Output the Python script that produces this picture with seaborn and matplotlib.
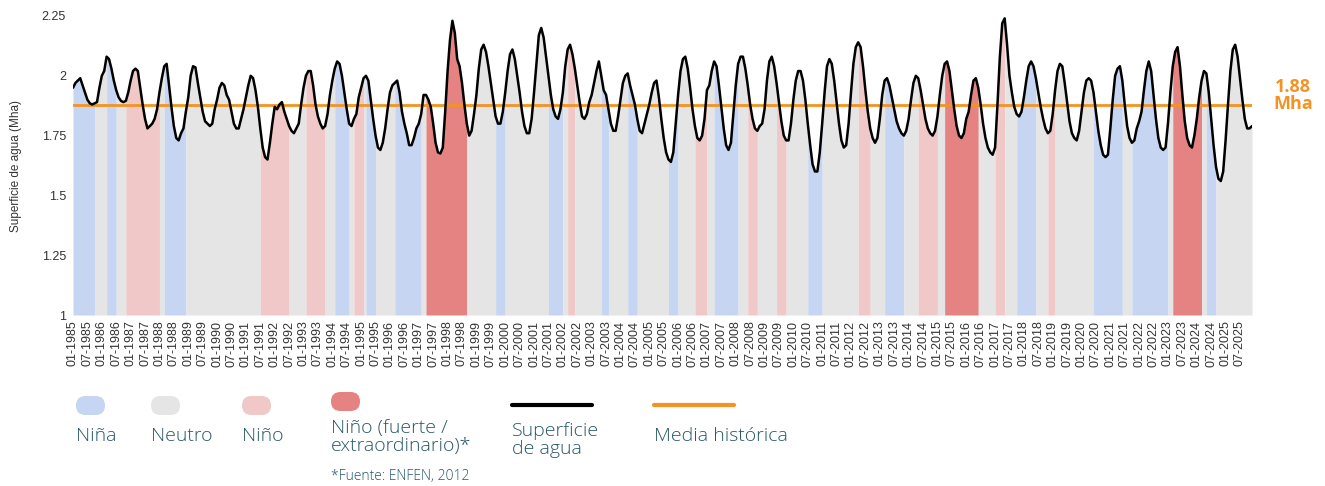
import numpy as np
import pandas as pd
import matplotlib
matplotlib.use("Agg")
import matplotlib.pyplot as plt
import seaborn as sns
from matplotlib.patches import FancyBboxPatch

# superficie de agua mensual (Mha), ene-1985 a dic-2025
sup_1985_1989 = [
    1.95, 1.97, 1.98, 1.99, 1.96, 1.93, 1.90, 1.885, 1.88, 1.885, 1.89, 1.95,
    2.00, 2.02, 2.08, 2.07, 2.03, 1.98, 1.94, 1.91, 1.895, 1.89, 1.895, 1.93,
    1.98, 2.02, 2.03, 2.02, 1.95, 1.88, 1.82, 1.78, 1.79, 1.80, 1.82, 1.86,
    1.93, 1.99, 2.04, 2.05, 1.96, 1.87, 1.79, 1.74, 1.73, 1.76, 1.78, 1.85,
    1.91, 2.00, 2.04, 2.035, 1.97, 1.91, 1.85, 1.81, 1.80, 1.79, 1.80, 1.86,
]
sup_1990_1999 = [
    1.90, 1.95, 1.97, 1.96, 1.92, 1.90, 1.85, 1.80, 1.78, 1.78, 1.82, 1.86,
    1.91, 1.96, 2.00, 1.99, 1.94, 1.87, 1.78, 1.70, 1.66, 1.65, 1.72, 1.80,
    1.87, 1.86, 1.88, 1.89, 1.85, 1.82, 1.79, 1.77, 1.76, 1.78, 1.80, 1.88,
    1.95, 2.00, 2.02, 2.02, 1.96, 1.88, 1.83, 1.80, 1.78, 1.79, 1.84, 1.92,
    1.98, 2.03, 2.06, 2.05, 2.00, 1.93, 1.86, 1.80, 1.79, 1.82, 1.84, 1.91,
    1.95, 1.99, 2.00, 1.98, 1.90, 1.82, 1.75, 1.70, 1.69, 1.72, 1.78, 1.86,
    1.93, 1.96, 1.97, 1.98, 1.93, 1.85, 1.80, 1.76, 1.71, 1.71, 1.74, 1.78,
    1.80, 1.84, 1.92, 1.92, 1.90, 1.87, 1.80, 1.72, 1.68, 1.675, 1.70, 1.85,
    2.02, 2.15, 2.23, 2.18, 2.07, 2.04, 1.97, 1.88, 1.80, 1.75, 1.77, 1.84,
    1.92, 2.03, 2.11, 2.13, 2.10, 2.04, 1.97, 1.90, 1.83, 1.80, 1.80, 1.85,
]
sup_2000_2009 = [
    1.93, 2.02, 2.09, 2.11, 2.07, 2.00, 1.93, 1.85, 1.79, 1.76, 1.76, 1.82,
    1.93, 2.05, 2.17, 2.20, 2.16, 2.08, 2.00, 1.92, 1.86, 1.83, 1.82, 1.86,
    1.93, 2.04, 2.11, 2.13, 2.09, 2.03, 1.96, 1.89, 1.83, 1.82, 1.84, 1.89,
    1.92, 1.97, 2.02, 2.06, 2.00, 1.94, 1.92, 1.86, 1.80, 1.77, 1.77, 1.83,
    1.90, 1.97, 2.00, 2.01, 1.96, 1.92, 1.88, 1.82, 1.77, 1.76, 1.80, 1.84,
    1.88, 1.93, 1.97, 1.98, 1.91, 1.82, 1.74, 1.68, 1.65, 1.64, 1.68, 1.80,
    1.92, 2.02, 2.07, 2.08, 2.03, 1.95, 1.86, 1.79, 1.74, 1.73, 1.75, 1.82,
    1.94, 1.96, 2.02, 2.06, 2.04, 1.96, 1.87, 1.78, 1.71, 1.69, 1.72, 1.84,
    1.96, 2.05, 2.08, 2.08, 2.03, 1.96, 1.88, 1.82, 1.78, 1.77, 1.79, 1.80,
    1.86, 1.98, 2.06, 2.08, 2.04, 1.97, 1.89, 1.81, 1.75, 1.73, 1.73, 1.80,
]
sup_2010_2019 = [
    1.90, 1.98, 2.02, 2.02, 1.98, 1.90, 1.80, 1.71, 1.63, 1.60, 1.60, 1.68,
    1.80, 1.93, 2.04, 2.07, 2.05, 1.98, 1.89, 1.80, 1.73, 1.70, 1.71, 1.80,
    1.93, 2.05, 2.12, 2.14, 2.12, 2.04, 1.94, 1.85, 1.78, 1.74, 1.72, 1.74,
    1.82, 1.92, 1.98, 1.99, 1.96, 1.91, 1.86, 1.81, 1.78, 1.76, 1.75, 1.77,
    1.82, 1.90, 1.97, 2.00, 1.99, 1.94, 1.88, 1.82, 1.78, 1.76, 1.75, 1.77,
    1.83, 1.92, 2.00, 2.05, 2.06, 2.02, 1.94, 1.86, 1.79, 1.75, 1.74, 1.76,
    1.82, 1.85, 1.92, 1.98, 1.99, 1.95, 1.88, 1.80, 1.74, 1.70, 1.68, 1.67,
    1.70, 1.88, 2.08, 2.22, 2.24, 2.13, 2.00, 1.93, 1.87, 1.84, 1.83, 1.85,
    1.91, 1.98, 2.04, 2.06, 2.04, 1.99, 1.93, 1.87, 1.82, 1.78, 1.76, 1.77,
    1.84, 1.94, 2.02, 2.05, 2.04, 1.97, 1.89, 1.81, 1.76, 1.74, 1.73, 1.77,
]
sup_2020_2025 = [
    1.85, 1.93, 1.98, 1.99, 1.98, 1.93, 1.85, 1.77, 1.71, 1.67, 1.66, 1.67,
    1.78, 1.90, 2.00, 2.03, 2.04, 1.98, 1.88, 1.79, 1.74, 1.72, 1.73, 1.78,
    1.81, 1.85, 1.94, 2.02, 2.06, 2.02, 1.92, 1.82, 1.74, 1.70, 1.69, 1.70,
    1.80, 1.93, 2.04, 2.10, 2.12, 2.04, 1.92, 1.81, 1.74, 1.71, 1.70, 1.75,
    1.82, 1.91, 1.98, 2.02, 2.01, 1.93, 1.82, 1.71, 1.62, 1.57, 1.56, 1.60,
    1.73, 1.88, 2.02, 2.11, 2.13, 2.08, 1.99, 1.90, 1.82, 1.78, 1.78, 1.79,
]

media_historica = 1.88

# fases ENSO: mes de inicio (MM-AAAA) y tipo
fase_inicio = [
    "01-1985", "10-1985", "03-1986", "07-1986", "11-1986", "01-1988", "03-1988",
    "12-1988", "07-1991", "07-1992", "02-1993", "10-1993", "02-1994", "08-1994",
    "10-1994", "02-1995", "03-1995", "07-1995", "03-1996", "02-1997", "04-1997",
    "09-1998", "09-1999", "01-2000", "07-2001", "01-2002", "03-2002", "06-2002",
    "05-2003", "08-2003", "04-2004", "08-2004", "09-2005", "01-2006", "08-2006",
    "01-2007", "04-2007", "02-2008", "06-2008", "10-2008", "06-2009", "10-2009",
    "07-2010", "01-2011", "04-2012", "09-2012", "03-2013", "11-2013", "05-2014",
    "01-2015", "04-2015", "06-2016", "01-2017", "05-2017", "10-2017", "06-2018",
    "11-2018", "02-2019", "06-2020", "06-2021", "10-2021", "01-2023", "03-2023",
    "03-2024", "05-2024", "09-2024",
]
fase = [
    "nina", "neutro", "nina", "neutro", "nino", "neutro", "nina",
    "neutro", "nino", "neutro", "nino", "neutro", "nina", "neutro",
    "nino", "neutro", "nina", "neutro", "nina", "neutro", "fuerte",
    "neutro", "nina", "neutro", "nina", "neutro", "nino", "neutro",
    "nina", "neutro", "nina", "neutro", "nina", "neutro", "nino",
    "neutro", "nina", "neutro", "nino", "neutro", "nino", "neutro",
    "nina", "neutro", "nino", "neutro", "nina", "neutro", "nino",
    "neutro", "fuerte", "neutro", "nino", "neutro", "nina", "neutro",
    "nino", "neutro", "nina", "neutro", "nina", "neutro", "fuerte",
    "neutro", "nina", "neutro",
]

colores = {"nina": "#c6d6f2", "neutro": "#e5e5e5", "nino": "#f1c8c8", "fuerte": "#e58282"}
naranja = "#f39323"
texto = "#285868"

superficie = np.array(sup_1985_1989 + sup_1990_1999 + sup_2000_2009 + sup_2010_2019 + sup_2020_2025)
meses = np.arange(len(superficie))
df = pd.DataFrame({"mes": meses, "superficie": superficie})


def indice(s):
    mm, aa = s.split("-")
    return (int(aa) - 1985) * 12 + int(mm) - 1


sns.set_style("white")
plt.rcParams['font.family'] = ['Liberation Sans', 'DejaVu Sans']

W, H = 1325, 486
fig = plt.figure(figsize=(W / 100, H / 100), dpi=100)
ax = fig.add_axes([73 / W, 1 - 315 / H, (1252 - 73) / W, (315 - 16) / H])

bordes = [indice(s) for s in fase_inicio] + [len(superficie) - 1]
for i, f in enumerate(fase):
    a, b = bordes[i], bordes[i + 1]
    ax.fill_between(meses[a:b + 1], 1, superficie[a:b + 1], color=colores[f], lw=0, zorder=1)

ax.axhline(media_historica, color=naranja, lw=2, zorder=2)
sns.lineplot(data=df, x="mes", y="superficie", color="black", lw=1.8, ax=ax, zorder=3)

ax.set_xlim(0, len(superficie) - 1)
ax.set_ylim(1, 2.25)
ticks = np.arange(0, len(superficie), 6)
etiquetas = [f"{m % 12 + 1:02d}-{1985 + m // 12}" for m in ticks]
ax.set_xticks(ticks, etiquetas, rotation=90, fontsize=9, color="#333333")
ax.set_yticks([1, 1.25, 1.5, 1.75, 2, 2.25], ["1", "1.25", "1.5", "1.75", "2", "2.25"],
              fontsize=9, color="#333333")
ax.tick_params(length=0)
ax.tick_params(axis="x", pad=4)
ax.tick_params(axis="y", pad=5)
sns.despine(ax=ax, left=True, bottom=True)
ax.set_xlabel("")
ax.set_ylabel("Superficie de agua (Mha)", fontsize=8.5, color="#333333")
ax.yaxis.set_label_coords((22 - 73) / (1252 - 73), 0.5)

# etiqueta de la media
fuente_media = ["Open Sans", "DejaVu Sans"]
fig.text(1293 / W, 1 - 92 / H, "1.88", color=naranja, fontsize=13, fontweight="bold",
         family=fuente_media, ha="center", va="baseline")
fig.text(1293 / W, 1 - 109 / H, "Mha", color=naranja, fontsize=13, fontweight="bold",
         family=fuente_media, ha="center", va="baseline")

# leyenda
lg = fig.add_axes([0, 0, 1, 1], zorder=-1)
lg.set_xlim(0, W)
lg.set_ylim(H, 0)
lg.axis("off")
marcas = [("nina", 76, 396), ("neutro", 151, 396), ("nino", 242, 396), ("fuerte", 331, 392)]
for f, x0, y0 in marcas:
    lg.add_patch(FancyBboxPatch((x0, y0), 29, 19, boxstyle="round,pad=0,rounding_size=9.5",
                                fc=colores[f], ec="none"))
lg.plot([512, 592], [405, 405], color="black", lw=3, solid_capstyle="round")
lg.plot([654, 734], [405, 405], color=naranja, lw=3, solid_capstyle="round")

ley_fuente = ["Open Sans", "DejaVu Sans"]
for txt, x0, y0 in [("Niña", 76, 436), ("Neutro", 151, 436), ("Niño", 242, 436),
                    ("Niño (fuerte /\nextraordinario)*", 331, 437),
                    ("Superficie\nde agua", 512, 440), ("Media histórica", 654, 436)]:
    lg.text(x0, y0, txt, color=texto, fontsize=14, family=ley_fuente, fontweight="light",
            va="center", ha="left", linespacing=1.0)
lg.text(331, 476, "*Fuente: ENFEN, 2012", color=texto, fontsize=10, family=ley_fuente,
        fontweight="light", va="center", ha="left")

fig.savefig("out.png", dpi=100, facecolor="white")
